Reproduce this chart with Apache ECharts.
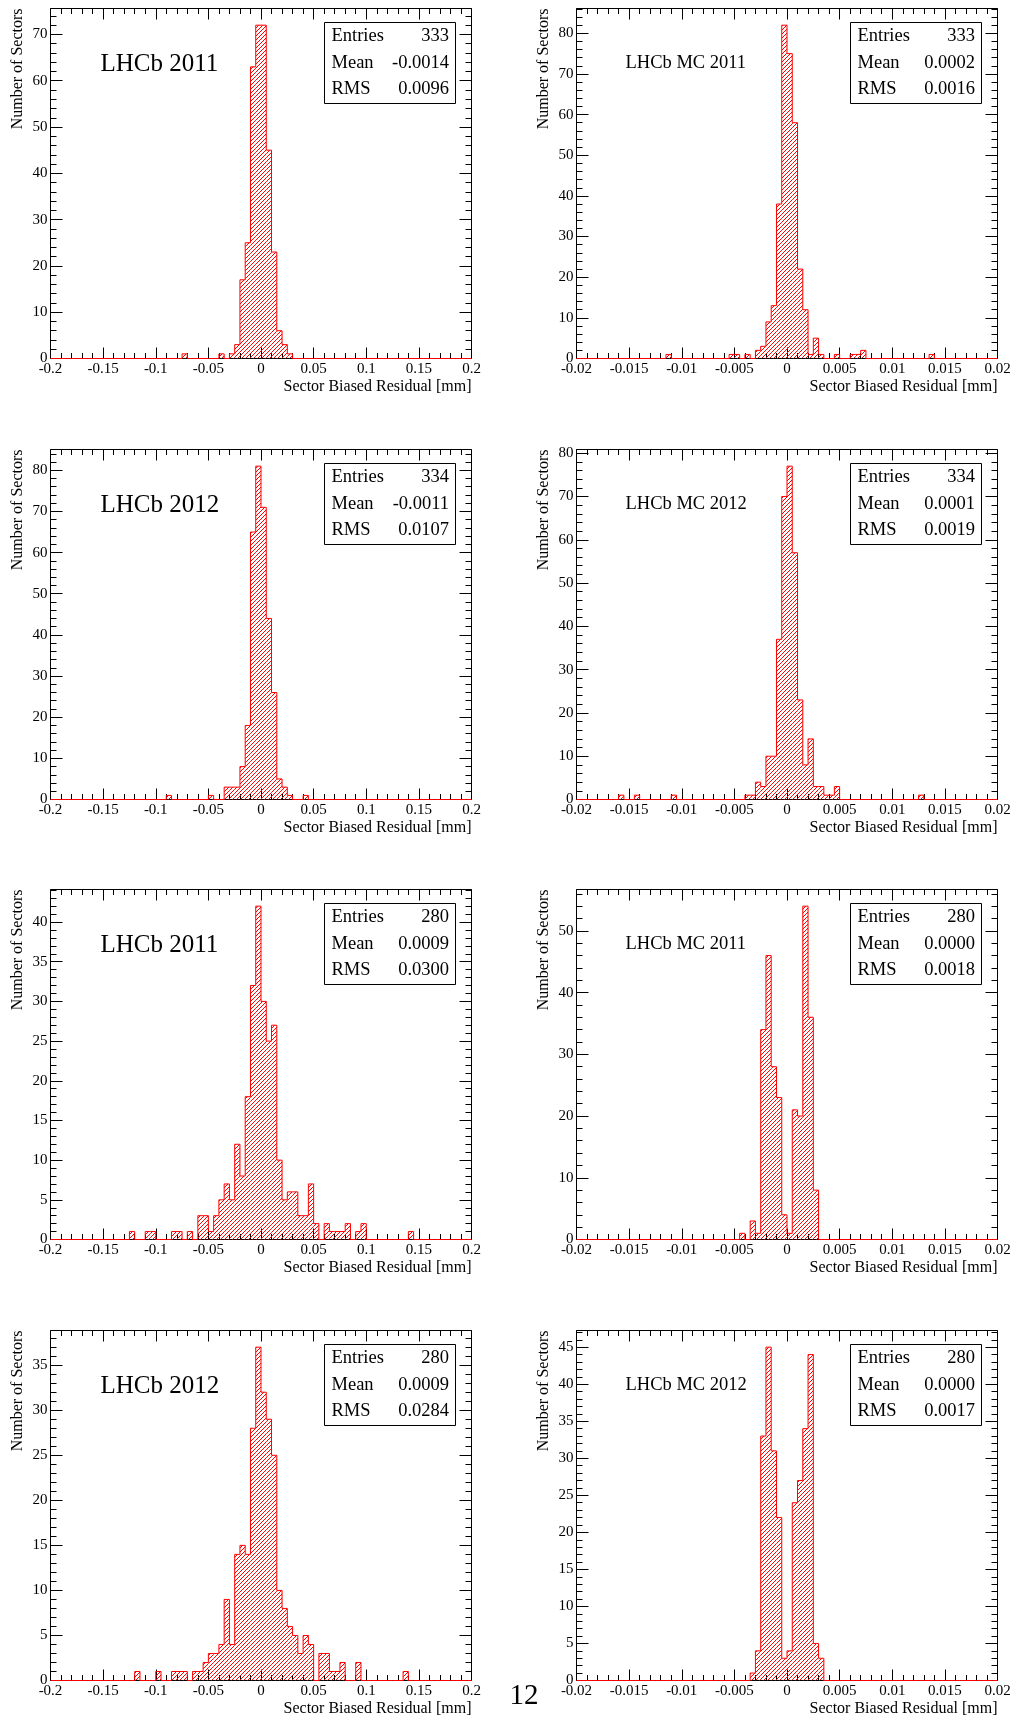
<!DOCTYPE html>
<html><head><meta charset="utf-8">
<script src="https://cdn.jsdelivr.net/npm/echarts@6/dist/echarts.min.js"></script>
<style>html,body{margin:0;padding:0;background:#fff}#c{width:1019px;height:1718px}</style>
</head><body><div id="c"></div>
<script>
// ---------- DATA ----------
const nBins = 80;
const dataRange = [-0.2, 0.2];
const mcRange = [-0.02, 0.02];
const dataTickLabels = ['-0.2','-0.15','-0.1','-0.05','0','0.05','0.1','0.15','0.2'];
const mcTickLabels = ['-0.02','-0.015','-0.01','-0.005','0','0.005','0.01','0.015','0.02'];

const data2011A = [0,0,0,0,0,0,0,0,0,0, 0,0,0,0,0,0,0,0,0,0, 0,0,0,0,0,1,0,0,0,0,
  0,0,1,0,1,3,17,25,63,72, 72,45,23,6,3,1,0,0,0,0, 0,0,0,0,0,0,0,0,0,0,
  0,0,0,0,0,0,0,0,0,0, 0,0,0,0,0,0,0,0,0,0];
const mc2011A = [0,0,0,0,0,0,0,0,0,0, 0,0,0,0,0,0,0,1,0,0, 0,0,0,0,0,0,0,0,0,1,
  1,0,1,0,2,3,9,13,38,82, 75,58,22,12,1,5,1,0,0,1, 0,0,1,1,2,0,0,0,0,0,
  0,0,0,0,0,0,0,1,0,0, 0,0,0,0,0,0,0,0,0,0];
const data2012A = [0,0,0,0,0,0,0,0,0,0, 0,0,0,0,0,0,0,0,0,0, 0,0,1,0,0,0,0,0,0,0,
  1,0,0,3,3,3,8,18,65,81, 71,44,26,5,3,1,0,0,1,0, 0,0,0,0,0,0,0,0,0,0,
  0,0,0,0,0,0,0,0,0,0, 0,0,0,0,0,0,0,0,0,0];
const mc2012A = [0,0,0,0,0,0,0,0,1,0, 0,1,0,0,0,0,0,0,1,0, 0,0,0,0,0,0,0,0,0,0,
  0,0,1,1,4,3,10,10,37,70, 77,57,23,8,14,3,3,1,1,3, 0,0,0,0,0,0,0,0,0,0,
  0,0,0,0,0,1,0,0,0,0, 0,0,0,0,0,0,0,0,0,0];
const data2011B = [0,0,0,0,0,0,0,0,0,0, 0,0,0,0,0,1,0,0,1,1, 0,0,0,1,1,0,1,0,3,3,
  1,3,5,7,5,12,8,18,32,42, 30,25,27,10,5,6,6,3,3,7, 2,0,2,1,1,1,2,0,1,2,
  0,0,0,0,0,0,0,0,1,0, 0,0,0,0,0,0,0,0,0,0];
const mc2011B = [0,0,0,0,0,0,0,0,0,0, 0,0,0,0,0,0,0,0,0,0, 0,0,0,0,0,0,0,0,0,0,
  0,1,0,3,1,34,46,28,23,4, 1,21,20,54,36,8,0,0,0,0, 0,0,0,0,0,0,0,0,0,0,
  0,0,0,0,0,0,0,0,0,0, 0,0,0,0,0,0,0,0,0,0];
const data2012B = [0,0,0,0,0,0,0,0,0,0, 0,0,0,0,0,0,1,0,0,0, 1,0,0,1,1,1,0,1,1,2,
  3,3,4,9,4,14,15,14,28,37, 32,29,25,10,8,6,5,3,5,4, 0,3,3,1,1,2,0,0,2,0,
  0,0,0,0,0,0,0,1,0,0, 0,0,0,0,0,0,0,0,0,0];
const mc2012B = [0,0,0,0,0,0,0,0,0,0, 0,0,0,0,0,0,0,0,0,0, 0,0,0,0,0,0,0,0,0,0,
  0,0,0,1,4,33,45,31,22,3, 4,24,27,34,44,5,3,0,0,0, 0,0,0,0,0,0,0,0,0,0,
  0,0,0,0,0,0,0,0,0,0, 0,0,0,0,0,0,0,0,0,0];

const panelCounts = [data2011A, mc2011A, data2012A, mc2012A, data2011B, mc2011B, data2012B, mc2012B];
const panelIsMC = [false, true, false, true, false, true, false, true];
const panelTitles = ['LHCb 2011','LHCb MC 2011','LHCb 2012','LHCb MC 2012','LHCb 2011','LHCb MC 2011','LHCb 2012','LHCb MC 2012'];
const yTickStep = [10, 10, 10, 10, 5, 10, 5, 5];
const statEntries = ['333','333','334','334','280','280','280','280'];
const statMeans = ['-0.0014','0.0002','-0.0011','0.0001','0.0009','0.0000','0.0009','0.0000'];
const statRMS = ['0.0096','0.0016','0.0107','0.0019','0.0300','0.0018','0.0284','0.0017'];
const xTitle = 'Sector Biased Residual [mm]';
const yTitle = 'Number of Sectors';
const pageNumber = '12';

// ---------- LAYOUT / STYLE ----------
const FONT = 'Liberation Serif';
const colLeft = [50.5, 576.5];
const rowTop = [8.5, 449.5, 889.5, 1330.5];
const W = 421, H = 350;
const RED = '#ff0000';

function makeHatch() {
  const c = document.createElement('canvas');
  c.width = 4; c.height = 4;
  const ctx = c.getContext('2d');
  ctx.fillStyle = RED;
  for (let i = 0; i < 4; i++) ctx.fillRect(i, 3 - i, 1, 1);
  return c;
}
const hatch = { image: makeHatch(), repeat: 'repeat' };

const grids = [], xAxes = [], yAxes = [], series = [], graphics = [];

panelCounts.forEach((counts, i) => {
  const col = i % 2, row = Math.floor(i / 2);
  const left = colLeft[col], top = rowTop[row];
  const isMC = panelIsMC[i];
  const range = isMC ? mcRange : dataRange;
  const labels = isMC ? mcTickLabels : dataTickLabels;
  const xInt = (range[1] - range[0]) / (labels.length - 1);
  const bw = (range[1] - range[0]) / nBins;
  const peak = Math.max(...counts);
  const yMax = peak * 1.05;
  const step = yTickStep[i];

  grids.push({ left, top, width: W, height: H, show: true, borderColor: '#000', borderWidth: 1,
    backgroundColor: 'transparent', containLabel: false, outerBoundsMode: 'none' });

  const xBase = {
    gridIndex: i, type: 'value', min: range[0], max: range[1], interval: xInt,
    axisLine: { show: false, onZero: false },
    axisTick: { show: true, inside: true, length: 11, lineStyle: { color: '#000', width: 1 } },
    minorTick: { show: true, splitNumber: 5, length: 5.5, lineStyle: { color: '#000', width: 1 } },
    splitLine: { show: false }, minorSplitLine: { show: false }
  };
  xAxes.push(Object.assign({}, xBase, { position: 'bottom',
    axisLabel: { show: true, margin: 3, fontFamily: FONT, fontSize: 15, color: '#000',
      showMinLabel: true, showMaxLabel: true, hideOverlap: false,
      formatter: v => labels[Math.round((v - range[0]) / xInt)] } }));
  xAxes.push(Object.assign({}, xBase, { position: 'top', axisLabel: { show: false } }));

  const yBase = {
    gridIndex: i, type: 'value', min: 0, max: yMax, interval: step,
    axisLine: { show: false, onZero: false },
    axisTick: { show: true, inside: true, length: 12, lineStyle: { color: '#000', width: 1 } },
    minorTick: { show: true, splitNumber: 5, length: 6, lineStyle: { color: '#000', width: 1 } },
    splitLine: { show: false }, minorSplitLine: { show: false }
  };
  yAxes.push(Object.assign({}, yBase, { position: 'left',
    axisLabel: { show: true, margin: 3, fontFamily: FONT, fontSize: 15, color: '#000',
      showMaxLabel: false, hideOverlap: false,
      formatter: v => (Math.abs(v / step - Math.round(v / step)) < 1e-6 ? String(Math.round(v)) : '') } }));
  yAxes.push(Object.assign({}, yBase, { position: 'right', axisLabel: { show: false } }));

  const items = counts.map((c, k) => [range[0] + k * bw, range[0] + (k + 1) * bw, c, k ? counts[k - 1] : 0]);
  series.push({
    type: 'custom', xAxisIndex: 2 * i, yAxisIndex: 2 * i, data: items,
    encode: { x: [0, 1], y: 2 }, silent: true, clip: false,
    renderItem: (params, api) => {
      const x0 = api.value(0), x1 = api.value(1), c = api.value(2), prev = api.value(3);
      const pa = api.coord([x0, 0]), pb = api.coord([x1, c]), pp = api.coord([x0, prev]);
      const ch = [];
      if (c > 0) ch.push({ type: 'rect', shape: { x: pa[0], y: pb[1], width: pb[0] - pa[0], height: pa[1] - pb[1] },
        style: { fill: hatch } });
      ch.push({ type: 'polyline', shape: { points: [[pa[0], pp[1]], [pa[0], pb[1]], [pb[0], pb[1]]] },
        style: { stroke: RED, lineWidth: 1, fill: null } });
      return { type: 'group', children: ch };
    }
  });

  // axis titles
  graphics.push({ type: 'text', x: left + W, y: top + H + 28,
    style: { text: xTitle, font: '16px "' + FONT + '"', fill: '#000', align: 'right', textAlign: 'right',
      verticalAlign: 'middle', textVerticalAlign: 'middle' } });
  graphics.push({ type: 'text', x: left - 33, y: top, rotation: Math.PI / 2,
    style: { text: yTitle, font: '16px "' + FONT + '"', fill: '#000', align: 'right', textAlign: 'right',
      verticalAlign: 'middle', textVerticalAlign: 'middle' } });
  // experiment label
  graphics.push({ type: 'text', x: left + (isMC ? 49 : 50), y: top + (isMC ? 55 : 56),
    style: { text: panelTitles[i], font: (isMC ? '18.5px' : '25px') + ' "' + FONT + '"', fill: '#000',
      align: 'left', textAlign: 'left', verticalAlign: 'middle', textVerticalAlign: 'middle' } });
  // stats box
  const bx = left + W - 16 - 131.5, by = top + 13;
  graphics.push({ type: 'rect', shape: { x: Math.round(bx) + 0.5, y: Math.round(by) + 0.5, width: 131, height: 81 },
    style: { fill: '#fff', stroke: '#000', lineWidth: 1 } });
  const rows = [['Entries', statEntries[i]], ['Mean', statMeans[i]], ['RMS', statRMS[i]]];
  rows.forEach((r, j) => {
    const ty = top + 28 + j * 26.3;
    graphics.push({ type: 'text', x: bx + 7.5, y: ty,
      style: { text: r[0], font: '18.5px "' + FONT + '"', fill: '#000', align: 'left', textAlign: 'left',
        verticalAlign: 'middle', textVerticalAlign: 'middle' } });
    graphics.push({ type: 'text', x: bx + 131.5 - 6.5, y: ty,
      style: { text: r[1], font: '18.5px "' + FONT + '"', fill: '#000', align: 'right', textAlign: 'right',
        verticalAlign: 'middle', textVerticalAlign: 'middle' } });
  });
});

graphics.push({ type: 'text', x: 524, y: 1696,
  style: { text: pageNumber, font: '29px "' + FONT + '"', fill: '#000', align: 'center', textAlign: 'center',
    verticalAlign: 'middle', textVerticalAlign: 'middle' } });

const chart = echarts.init(document.getElementById('c'), null, { renderer: 'canvas' });
chart.setOption({
  animation: false,
  backgroundColor: '#fff',
  grid: grids, xAxis: xAxes, yAxis: yAxes, series: series,
  graphic: graphics
});
</script></body></html>
